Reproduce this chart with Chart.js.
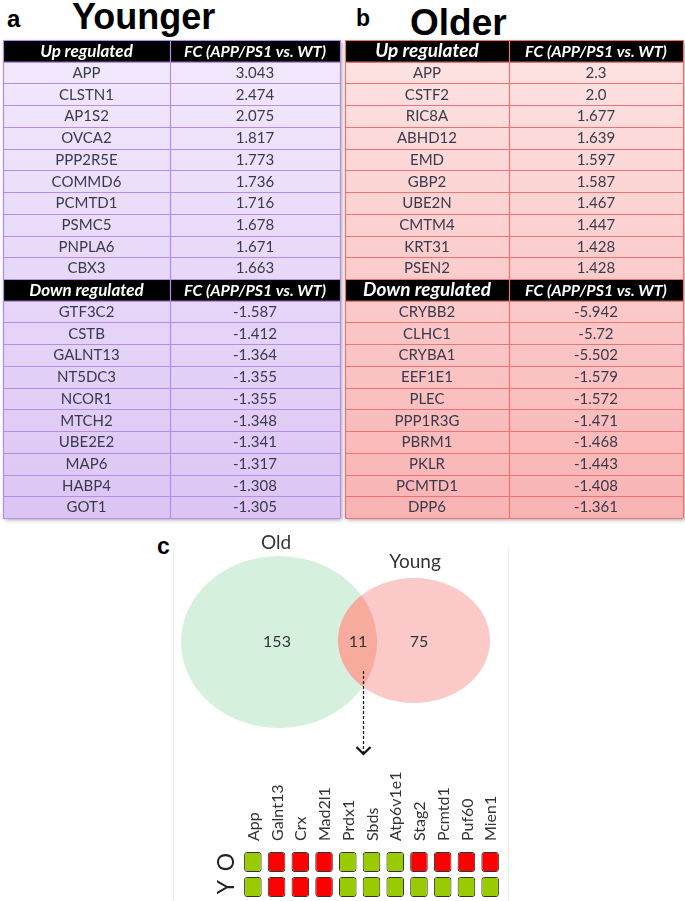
<!DOCTYPE html>
<html><head><meta charset="utf-8">
<script src="https://cdn.jsdelivr.net/npm/chart.js@4.4.1/dist/chart.umd.min.js"></script>
<style>
html,body{margin:0;padding:0;background:#fff;width:685px;height:901px;overflow:hidden;position:relative;font-family:'Liberation Sans',Arial,sans-serif;}
canvas{position:absolute;}
.lbl{position:absolute;font-weight:bold;color:#000;line-height:1;white-space:nowrap;}
.frame{position:absolute;left:173px;top:548px;width:334px;height:360px;border-left:1px solid #ececec;border-right:1px solid #ececec;}
</style></head><body>
<div class="frame"></div>
<div class="lbl" style="left:7px;top:7px;font-size:24px;">a</div>
<div class="lbl" style="left:72px;top:-1px;font-size:36px;">Younger</div>
<div class="lbl" style="left:356px;top:7px;font-size:23px;">b</div>
<div class="lbl" style="left:410px;top:4px;font-size:37px;">Older</div>
<div class="lbl" style="left:157px;top:535px;font-size:23px;">c</div>
<canvas id="tA" width="346" height="492" style="left:0px;top:34px"></canvas>
<canvas id="tB" width="343" height="492" style="left:342px;top:34px"></canvas>
<canvas id="venn" width="380" height="230" style="left:150px;top:530px"></canvas>
<canvas id="grid" width="300" height="141" style="left:205px;top:760px"></canvas>
<script>
// ---------- DATA ----------
const tableHeaderUp = ['Up regulated', 'FC (APP/PS1 vs. WT)'];
const tableHeaderDown = ['Down regulated', 'FC (APP/PS1 vs. WT)'];

const youngerUpGenes = ['APP','CLSTN1','AP1S2','OVCA2','PPP2R5E','COMMD6','PCMTD1','PSMC5','PNPLA6','CBX3'];
const youngerUpFC    = ['3.043','2.474','2.075','1.817','1.773','1.736','1.716','1.678','1.671','1.663'];
const youngerDownGenes = ['GTF3C2','CSTB','GALNT13','NT5DC3','NCOR1','MTCH2','UBE2E2','MAP6','HABP4','GOT1'];
const youngerDownFC    = ['-1.587','-1.412','-1.364','-1.355','-1.355','-1.348','-1.341','-1.317','-1.308','-1.305'];

const olderUpGenes = ['APP','CSTF2','RIC8A','ABHD12','EMD','GBP2','UBE2N','CMTM4','KRT31','PSEN2'];
const olderUpFC    = ['2.3','2.0','1.677','1.639','1.597','1.587','1.467','1.447','1.428','1.428'];
const olderDownGenes = ['CRYBB2','CLHC1','CRYBA1','EEF1E1','PLEC','PPP1R3G','PBRM1','PKLR','PCMTD1','DPP6'];
const olderDownFC    = ['-5.942','-5.72','-5.502','-1.579','-1.572','-1.471','-1.468','-1.443','-1.408','-1.361'];

const vennSetLabels = ['Old', 'Young'];
const vennCounts = [153, 11, 75]; // old only, shared, young only

const sharedGenes = ['App','Galnt13','Crx','Mad2l1','Prdx1','Sbds','Atp6v1e1','Stag2','Pcmtd1','Puf60','Mien1'];
const gridRows = ['O', 'Y'];
const oldStatus   = ['up','down','down','down','up','up','up','down','down','down','down'];
const youngStatus = ['up','down','down','down','up','up','up','up','up','up','up'];

// ---------- TABLES ----------
function buildRows(hUp, upG, upV, hDown, dnG, dnV) {
  const rows = [{header:true, c:hUp}];
  upG.forEach((g,i)=>rows.push({header:false, c:[g, upV[i]]}));
  rows.push({header:true, c:hDown});
  dnG.forEach((g,i)=>rows.push({header:false, c:[g, dnV[i]]}));
  return rows;
}

const tablePlugin = {
  id: 'tableDraw',
  afterDraw(chart, args, o) {
    const {ctx, scales:{x, y}} = chart;
    const rows = o.rows;
    const L = x.getPixelForValue(0), R = x.getPixelForValue(1), M = x.getPixelForValue(o.split);
    const T = y.getPixelForValue(0), B = y.getPixelForValue(rows.length);
    ctx.save();
    ctx.shadowColor = 'rgba(0,0,0,0.35)'; ctx.shadowBlur = 4; ctx.shadowOffsetX = 1.5; ctx.shadowOffsetY = 2;
    ctx.fillStyle = '#fff'; ctx.fillRect(L, T, R-L, B-T);
    ctx.restore();
    const g = ctx.createLinearGradient(0, T, 0, B);
    g.addColorStop(0, o.top); g.addColorStop(1, o.bottom);
    ctx.fillStyle = g; ctx.fillRect(L, T, R-L, B-T);
    rows.forEach((r,i)=>{
      if (r.header) {
        const y0 = y.getPixelForValue(i), y1 = y.getPixelForValue(i+1);
        ctx.fillStyle = '#000'; ctx.fillRect(L, y0, R-L, y1-y0);
      }
    });
    ctx.strokeStyle = o.border; ctx.lineWidth = 1.2;
    for (let i = 0; i <= rows.length; i++) {
      const yy = Math.round(y.getPixelForValue(i)) + 0.5;
      ctx.beginPath(); ctx.moveTo(L, yy); ctx.lineTo(R, yy); ctx.stroke();
    }
    [L, M, R].forEach(xx=>{
      const px = Math.round(xx) + 0.5;
      ctx.beginPath(); ctx.moveTo(px, T); ctx.lineTo(px, B); ctx.stroke();
    });
    ctx.textAlign = 'center'; ctx.textBaseline = 'middle';
    const c1 = (L + M) / 2, c2 = (M + R) / 2;
    rows.forEach((r,i)=>{
      const yc = y.getPixelForValue(i + 0.5) + 0.5;
      if (r.header) {
        ctx.fillStyle = '#fff';
        ctx.font = 'italic bold ' + o.h1 + 'px Lato'; ctx.fillText(r.c[0], c1, yc);
        ctx.font = 'italic bold 16px Lato'; ctx.fillText(r.c[1], c2, yc);
      } else {
        ctx.font = '15px Lato'; ctx.fillStyle = '#3a3a4c';
        ctx.fillText(r.c[0], c1, yc);
        ctx.fillText(r.c[1], c2, yc);
      }
    });
  }
};

function makeTable(id, rows, pad, split, top, bottom, border, h1) {
  return new Chart(document.getElementById(id), {
    type: 'scatter',
    data: { datasets: [] },
    options: {
      responsive: false, animation: false, events: [],
      layout: { padding: pad },
      scales: {
        x: { type:'linear', min:0, max:1, display:false },
        y: { type:'linear', min:0, max:rows.length, reverse:true, display:false }
      },
      plugins: { legend:{display:false}, tooltip:{enabled:false},
        tableDraw: { rows, split, top, bottom, border, h1 } }
    },
    plugins: [tablePlugin]
  });
}

makeTable('tA', buildRows(tableHeaderUp, youngerUpGenes, youngerUpFC, tableHeaderDown, youngerDownGenes, youngerDownFC),
  {left:3, right:6, top:6, bottom:8}, 0.4955, '#f3eafd', '#dcc5f4', '#b58ce8', 17);
makeTable('tB', buildRows(tableHeaderUp, olderUpGenes, olderUpFC, tableHeaderDown, olderDownGenes, olderDownFC),
  {left:3, right:2, top:6, bottom:8}, 0.485, '#fde4e4', '#f9b3b3', '#ee7272', 19);

// ---------- VENN ----------
const vennShapes = {
  old:   { cx:129, cy:112, rx:98, ry:86, fill:'#d6f0de' },
  young: { cx:264, cy:110.5, rx:76, ry:62.5, fill:'#fcc9c9' },
  overlapFill: '#f6ab9c',
  setLabelPos: [[126, 13], [265, 32]],
  countPos: [[127, 112], [208, 112], [269, 112]],
  arrow: { x:213, y0:141, y1:224 }
};

const vennPlugin = {
  id: 'vennDraw',
  afterDraw(chart) {
    const {ctx, scales:{x, y}} = chart;
    const s = vennShapes;
    const ell = e => {
      const cx = x.getPixelForValue(e.cx), cy = y.getPixelForValue(e.cy);
      const rx = Math.abs(x.getPixelForValue(e.cx + e.rx) - cx), ry = Math.abs(y.getPixelForValue(e.cy + e.ry) - cy);
      ctx.beginPath(); ctx.ellipse(cx, cy, rx, ry, 0, 0, Math.PI*2);
    };
    ctx.save();
    ell(s.old); ctx.fillStyle = s.old.fill; ctx.fill();
    ell(s.young); ctx.fillStyle = s.young.fill; ctx.fill();
    ell(s.old); ctx.clip();
    ell(s.young); ctx.fillStyle = s.overlapFill; ctx.fill();
    ctx.restore();

    ctx.save();
    ctx.fillStyle = '#333'; ctx.textAlign = 'center'; ctx.textBaseline = 'middle';
    ctx.font = '19px Lato';
    vennSetLabels.forEach((t,i)=>ctx.fillText(t, x.getPixelForValue(s.setLabelPos[i][0]), y.getPixelForValue(s.setLabelPos[i][1])));
    ctx.font = '16px Lato';
    vennCounts.forEach((v,i)=>ctx.fillText(String(v), x.getPixelForValue(s.countPos[i][0]), y.getPixelForValue(s.countPos[i][1])));
    // dashed arrow
    const ax = Math.round(x.getPixelForValue(s.arrow.x)) + 0.5;
    const a0 = y.getPixelForValue(s.arrow.y0), a1 = y.getPixelForValue(s.arrow.y1);
    ctx.strokeStyle = '#111'; ctx.lineWidth = 1.2; ctx.setLineDash([3,2]);
    ctx.beginPath(); ctx.moveTo(ax, a0); ctx.lineTo(ax, a1); ctx.stroke();
    ctx.setLineDash([]); ctx.lineWidth = 2.2;
    ctx.beginPath(); ctx.moveTo(ax-7, a1-7); ctx.lineTo(ax, a1); ctx.lineTo(ax+7, a1-7); ctx.stroke();
    ctx.restore();
  }
};

new Chart(document.getElementById('venn'), {
  type: 'scatter',
  data: { datasets: [] },
  options: {
    responsive:false, animation:false, events:[],
    layout: { padding: 0 },
    scales: {
      x: { type:'linear', min:0, max:380, display:false },
      y: { type:'linear', min:0, max:230, reverse:true, display:false }
    },
    plugins: { legend:{display:false}, tooltip:{enabled:false} }
  },
  plugins: [vennPlugin]
});

// ---------- SHARED GENE GRID ----------
const statusColor = { up:'#99cc00', down:'#ff0000' };
const gridLabelPlugin = {
  id: 'gridLabels',
  afterDraw(chart) {
    const {ctx, scales:{x, y}, chartArea} = chart;
    ctx.save();
    // gene labels, rotated, reading bottom to top
    ctx.fillStyle = '#333'; ctx.font = '16px Lato';
    ctx.textAlign = 'left'; ctx.textBaseline = 'middle';
    sharedGenes.forEach((g,i)=>{
      ctx.save(); ctx.translate(x.getPixelForValue(i) + 1, chartArea.top - 7); ctx.rotate(-Math.PI/2);
      ctx.fillText(g, 0, 0); ctx.restore();
    });
    // row labels
    ctx.fillStyle = '#222'; ctx.font = '23px Lato';
    ctx.textAlign = 'center';
    gridRows.forEach((r,i)=>{
      const yc = y.getPixelForValue(i + 0.56);
      ctx.save(); ctx.translate(chartArea.left - 14, yc); ctx.rotate(-Math.PI/2);
      ctx.fillText(r, 0, 0); ctx.restore();
    });
    ctx.restore();
  }
};

new Chart(document.getElementById('grid'), {
  type: 'bar',
  data: {
    labels: sharedGenes,
    datasets: [
      { label: gridRows[0], data: oldStatus.map(()=>[0.16, 0.96]), backgroundColor: oldStatus.map(s=>statusColor[s]) },
      { label: gridRows[1], data: youngStatus.map(()=>[1.16, 1.96]), backgroundColor: youngStatus.map(s=>statusColor[s]) }
    ]
  },
  options: {
    responsive:false, animation:false, events:[],
    layout: { padding: { left:36, right:3, top:0, bottom:0 } },
    datasets: { bar: { grouped:false, categoryPercentage:1, barPercentage:0.74, borderColor:'#333', borderWidth:1, borderRadius:3, borderSkipped:false } },
    scales: {
      x: { position:'top', grid:{display:false, drawTicks:false}, border:{display:false},
           ticks:{ display:false },
           afterFit(scale){ scale.height = 88; } },
      y: { type:'linear', min:0, max:2.12, reverse:true, display:false }
    },
    plugins: { legend:{display:false}, tooltip:{enabled:false} }
  },
  plugins: [gridLabelPlugin]
});
</script>
</body></html>
